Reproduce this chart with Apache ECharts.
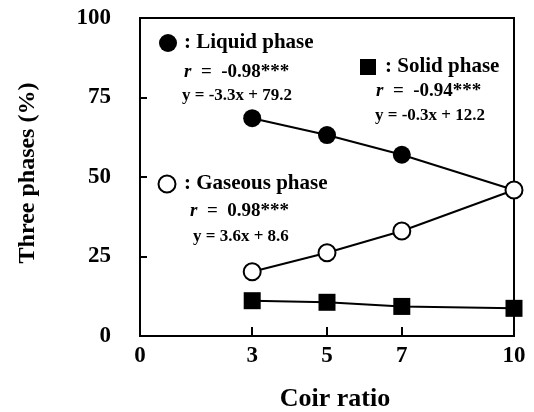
<!DOCTYPE html>
<html>
<head>
<meta charset="utf-8">
<script src="https://cdn.jsdelivr.net/npm/echarts@6/dist/echarts.min.js"></script>
<style>
html,body{margin:0;padding:0;background:#fff;}
#chart{width:534px;height:412px;}
</style>
</head>
<body>
<div id="chart"></div>
<script>
const coirRatios = [3, 5, 7, 10];
const liquidPhase = [68.5, 63.2, 57.0, 45.9];
const gaseousPhase = [20.2, 26.2, 33.0, 45.9];
const solidPhase = [11.1, 10.6, 9.3, 8.7];
const xTickLabels = [0, 3, 5, 7, 10];
const yTickLabels = [0, 25, 50, 75, 100];

const FONT = '"Liberation Serif", "Times New Roman", serif';
const pairs = (ys) => coirRatios.map((x, i) => [x, ys[i]]);

const chart = echarts.init(document.getElementById('chart'));

function noteText(x, y, text, size) {
  return {
    type: 'text', x: x, y: y,
    style: {
      text: text, fill: '#000',
      font: 'bold ' + size + 'px ' + FONT,
      align: 'left', verticalAlign: 'middle',
      rich: {
        i: { fontStyle: 'italic', fontWeight: 'bold', fontSize: size, fontFamily: FONT, fill: '#000' }
      }
    }
  };
}

chart.setOption({
  animation: false,
  backgroundColor: '#fff',
  grid: { left: 140, right: 20, top: 18, bottom: 76, show: true, borderColor: '#000', borderWidth: 2, outerBoundsMode: 'none', containLabel: false },
  xAxis: {
    type: 'value', min: 0, max: 10,
    name: 'Coir ratio', nameLocation: 'middle', nameGap: 50,
    nameTextStyle: { fontFamily: FONT, fontWeight: 'bold', fontSize: 26, color: '#000', padding: [0, 0, 0, 16] },
    axisLine: { show: true, onZero: false, lineStyle: { color: '#000', width: 2 } },
    axisTick: { show: true, inside: true, length: 9, customValues: [3, 5, 7], lineStyle: { color: '#000', width: 2 } },
    axisLabel: { customValues: xTickLabels, margin: 9, fontFamily: FONT, fontWeight: 'bold', fontSize: 23, color: '#000' },
    splitLine: { show: false }
  },
  yAxis: {
    type: 'value', min: 0, max: 100, interval: 25,
    name: 'Three phases (%)', nameLocation: 'middle', nameGap: 100,
    nameTextStyle: { fontFamily: FONT, fontWeight: 'bold', fontSize: 24, color: '#000', padding: [0, 0, 0, 8] },
    axisLine: { show: true, lineStyle: { color: '#000', width: 2 } },
    axisTick: { show: true, inside: true, length: 7, customValues: [25, 50, 75], lineStyle: { color: '#000', width: 2 } },
    axisLabel: { customValues: yTickLabels, margin: 29, fontFamily: FONT, fontWeight: 'bold', fontSize: 23, color: '#000' },
    splitLine: { show: false }
  },
  series: [
    {
      name: 'Solid phase', type: 'line', data: pairs(solidPhase), clip: false,
      symbol: 'rect', symbolSize: 17,
      lineStyle: { color: '#000', width: 2 },
      itemStyle: { color: '#000', borderColor: '#000', borderWidth: 0 }
    },
    {
      name: 'Liquid phase', type: 'line', data: pairs(liquidPhase), clip: false,
      symbol: 'circle', symbolSize: 18,
      lineStyle: { color: '#000', width: 2 },
      itemStyle: { color: '#000', borderColor: '#000', borderWidth: 0 }
    },
    {
      name: 'Gaseous phase', type: 'line', data: pairs(gaseousPhase), clip: false,
      symbol: 'circle', symbolSize: 17,
      lineStyle: { color: '#000', width: 2 },
      itemStyle: { color: '#fff', borderColor: '#000', borderWidth: 2 }
    }
  ],
  graphic: [
    { type: 'circle', shape: { cx: 168, cy: 43, r: 9 }, style: { fill: '#000' } },
    noteText(184, 43, ': Liquid phase', 21),
    noteText(184, 72, '{i|r}  =  -0.98***', 19),
    noteText(182, 96, 'y = -3.3x + 79.2', 17),

    { type: 'rect', shape: { x: 360, y: 59, width: 16, height: 16 }, style: { fill: '#000' } },
    noteText(385, 67, ': Solid phase', 21),
    noteText(376, 91, '{i|r}  =  -0.94***', 19),
    noteText(375, 116, 'y = -0.3x + 12.2', 17),

    { type: 'circle', shape: { cx: 167, cy: 184, r: 8.5 }, style: { fill: '#fff', stroke: '#000', lineWidth: 2 } },
    noteText(184, 184, ': Gaseous phase', 21),
    noteText(190, 211, '{i|r}  =  0.98***', 19),
    noteText(193, 237, 'y = 3.6x + 8.6', 17)
  ]
});
</script>
</body>
</html>
